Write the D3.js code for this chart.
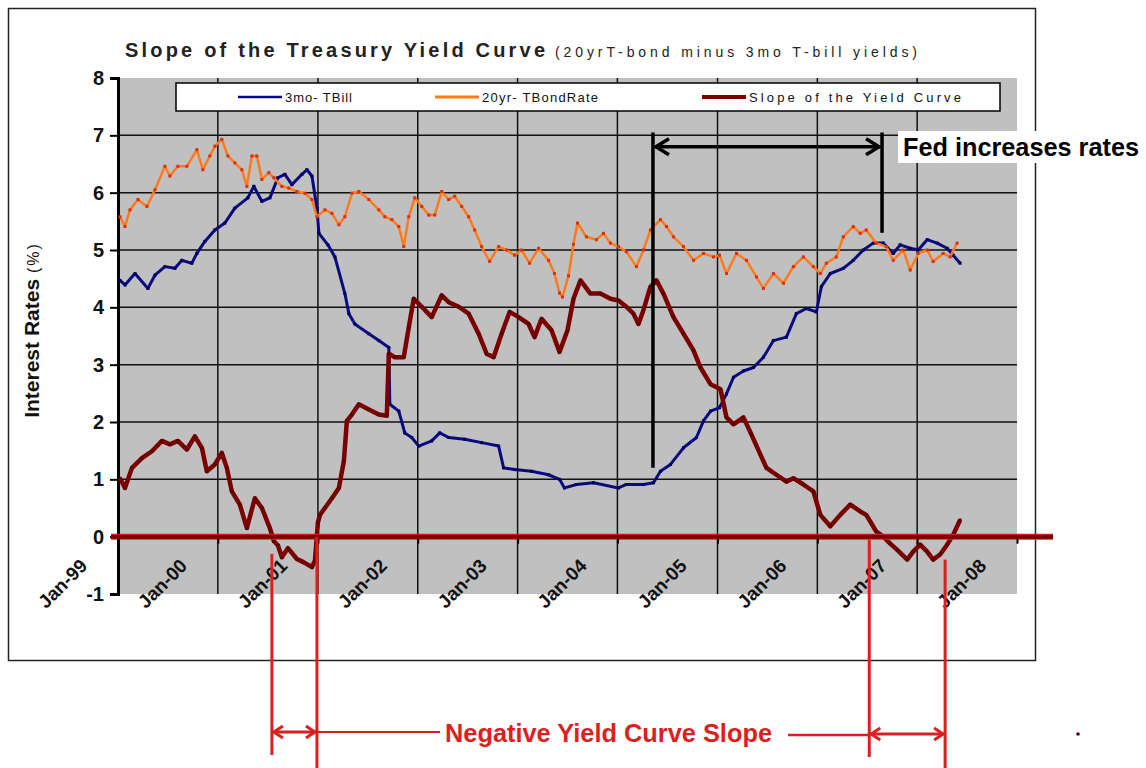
<!DOCTYPE html>
<html>
<head>
<meta charset="utf-8">
<script src="https://cdn.jsdelivr.net/npm/d3@7"></script>
<style>
  body { margin: 0; background: #fff; }
  svg { font-family: 'Liberation Sans', Arial, sans-serif; }
</style>
</head>
<body>
<div class="vis-container"></div>
<script>
// Values: [decimal year, percent]
const tbill = [
  [1999.02, 4.47], [1999.07, 4.39], [1999.17, 4.59], [1999.30, 4.33], [1999.37, 4.56], [1999.47, 4.71],
  [1999.57, 4.68], [1999.64, 4.82], [1999.74, 4.77], [1999.79, 4.94], [1999.87, 5.15], [1999.97, 5.35],
  [2000.07, 5.47], [2000.17, 5.73], [2000.30, 5.91], [2000.36, 6.11], [2000.44, 5.85], [2000.52, 5.91],
  [2000.60, 6.26], [2000.67, 6.32], [2000.74, 6.14], [2000.84, 6.32], [2000.89, 6.40], [2000.94, 6.29],
  [2000.99, 5.73], [2001.01, 5.29], [2001.10, 5.09], [2001.17, 4.88], [2001.27, 4.24], [2001.31, 3.89],
  [2001.37, 3.71], [2001.51, 3.54], [2001.61, 3.42], [2001.71, 3.30], [2001.72, 2.31], [2001.81, 2.19],
  [2001.87, 1.81], [2001.94, 1.73], [2002.01, 1.58], [2002.14, 1.67], [2002.22, 1.81], [2002.31, 1.73],
  [2002.47, 1.70], [2002.64, 1.64], [2002.81, 1.58], [2002.86, 1.20], [2002.97, 1.17], [2003.14, 1.14],
  [2003.31, 1.08], [2003.42, 1.00], [2003.47, 0.85], [2003.59, 0.91], [2003.76, 0.94], [2004.01, 0.85],
  [2004.09, 0.91], [2004.26, 0.91], [2004.36, 0.94], [2004.43, 1.14], [2004.53, 1.26], [2004.66, 1.55],
  [2004.79, 1.73], [2004.86, 2.02], [2004.93, 2.19], [2005.02, 2.25], [2005.09, 2.49], [2005.16, 2.78],
  [2005.26, 2.89], [2005.36, 2.95], [2005.46, 3.13], [2005.56, 3.42], [2005.69, 3.48], [2005.79, 3.89],
  [2005.89, 3.98], [2005.99, 3.92], [2006.04, 4.36], [2006.13, 4.59], [2006.26, 4.68], [2006.36, 4.82],
  [2006.46, 5.00], [2006.56, 5.12], [2006.66, 5.12], [2006.76, 4.94], [2006.83, 5.09], [2006.93, 5.03],
  [2007.01, 5.00], [2007.10, 5.18], [2007.20, 5.12], [2007.30, 5.03], [2007.36, 4.91], [2007.43, 4.77]
];

const bond20 = [
  [1999.02, 5.58], [1999.07, 5.41], [1999.12, 5.70], [1999.20, 5.88], [1999.29, 5.76], [1999.37, 6.05],
  [1999.47, 6.46], [1999.52, 6.29], [1999.60, 6.46], [1999.69, 6.46], [1999.79, 6.75], [1999.85, 6.40],
  [1999.92, 6.64], [1999.97, 6.81], [2000.04, 6.93], [2000.10, 6.64], [2000.17, 6.52], [2000.24, 6.40],
  [2000.29, 6.11], [2000.34, 6.64], [2000.39, 6.64], [2000.44, 6.23], [2000.51, 6.35], [2000.56, 6.26],
  [2000.64, 6.11], [2000.71, 6.08], [2000.79, 6.02], [2000.87, 5.99], [2000.94, 5.88], [2000.99, 5.58],
  [2001.07, 5.70], [2001.14, 5.64], [2001.21, 5.44], [2001.27, 5.58], [2001.34, 5.99], [2001.41, 6.02],
  [2001.51, 5.88], [2001.61, 5.70], [2001.67, 5.58], [2001.74, 5.53], [2001.81, 5.41], [2001.86, 5.06],
  [2001.91, 5.58], [2001.97, 5.91], [2002.04, 5.76], [2002.11, 5.61], [2002.17, 5.61], [2002.24, 6.02],
  [2002.31, 5.88], [2002.37, 5.94], [2002.44, 5.76], [2002.51, 5.58], [2002.57, 5.35], [2002.64, 5.06],
  [2002.72, 4.80], [2002.81, 5.06], [2002.89, 5.00], [2002.97, 4.91], [2003.04, 5.00], [2003.12, 4.77],
  [2003.21, 5.03], [2003.31, 4.82], [2003.37, 4.59], [2003.42, 4.25], [2003.45, 4.18], [2003.51, 4.55],
  [2003.56, 5.10], [2003.60, 5.47], [2003.69, 5.23], [2003.79, 5.18], [2003.86, 5.29], [2003.93, 5.12],
  [2004.01, 5.06], [2004.09, 4.97], [2004.19, 4.71], [2004.26, 5.00], [2004.33, 5.35], [2004.43, 5.53],
  [2004.49, 5.41], [2004.56, 5.23], [2004.66, 5.06], [2004.76, 4.82], [2004.86, 4.94], [2004.96, 4.88],
  [2005.02, 4.91], [2005.09, 4.59], [2005.19, 4.94], [2005.29, 4.82], [2005.39, 4.53], [2005.46, 4.33],
  [2005.56, 4.59], [2005.66, 4.42], [2005.76, 4.71], [2005.86, 4.88], [2005.96, 4.71], [2006.03, 4.59],
  [2006.09, 4.77], [2006.19, 4.88], [2006.26, 5.23], [2006.36, 5.41], [2006.43, 5.29], [2006.49, 5.35],
  [2006.59, 5.12], [2006.69, 5.06], [2006.76, 4.82], [2006.86, 5.00], [2006.93, 4.65], [2007.01, 4.94],
  [2007.10, 5.00], [2007.16, 4.80], [2007.26, 4.94], [2007.33, 4.88], [2007.40, 5.12]
];

const slope = [
  [1999.02, 1.02], [1999.07, 0.85], [1999.14, 1.20], [1999.24, 1.37], [1999.34, 1.49], [1999.44, 1.67],
  [1999.52, 1.61], [1999.60, 1.67], [1999.69, 1.52], [1999.77, 1.75], [1999.84, 1.55], [1999.89, 1.14],
  [1999.97, 1.26], [2000.04, 1.46], [2000.09, 1.20], [2000.14, 0.79], [2000.22, 0.56], [2000.29, 0.15],
  [2000.37, 0.67], [2000.44, 0.50], [2000.52, 0.15], [2000.56, -0.08], [2000.60, -0.15], [2000.64, -0.36],
  [2000.70, -0.20], [2000.79, -0.39], [2000.85, -0.44], [2000.94, -0.53], [2000.97, -0.42], [2001.00, 0.25],
  [2001.02, 0.38], [2001.07, 0.50], [2001.14, 0.67], [2001.21, 0.85], [2001.26, 1.32], [2001.29, 2.02],
  [2001.34, 2.13], [2001.41, 2.31], [2001.51, 2.22], [2001.61, 2.13], [2001.69, 2.11], [2001.71, 3.19],
  [2001.77, 3.13], [2001.86, 3.13], [2001.91, 3.65], [2001.96, 4.15], [2002.04, 4.01], [2002.14, 3.83],
  [2002.24, 4.21], [2002.31, 4.09], [2002.41, 4.01], [2002.51, 3.89], [2002.61, 3.54], [2002.69, 3.19],
  [2002.76, 3.13], [2002.84, 3.54], [2002.92, 3.92], [2003.01, 3.83], [2003.11, 3.71], [2003.17, 3.48],
  [2003.24, 3.80], [2003.34, 3.60], [2003.42, 3.22], [2003.50, 3.60], [2003.56, 4.15], [2003.63, 4.47],
  [2003.73, 4.24], [2003.83, 4.24], [2003.93, 4.15], [2004.01, 4.12], [2004.09, 4.01], [2004.16, 3.89],
  [2004.21, 3.71], [2004.26, 3.95], [2004.33, 4.36], [2004.39, 4.47], [2004.46, 4.24], [2004.56, 3.83],
  [2004.66, 3.54], [2004.76, 3.25], [2004.83, 2.95], [2004.93, 2.66], [2005.03, 2.57], [2005.09, 2.08],
  [2005.16, 1.96], [2005.26, 2.08], [2005.34, 1.78], [2005.43, 1.43], [2005.49, 1.20], [2005.59, 1.08],
  [2005.69, 0.96], [2005.76, 1.02], [2005.86, 0.91], [2005.96, 0.79], [2006.03, 0.38], [2006.13, 0.18],
  [2006.23, 0.38], [2006.33, 0.56], [2006.43, 0.44], [2006.49, 0.38], [2006.59, 0.09], [2006.66, 0.00],
  [2006.73, -0.12], [2006.80, -0.23], [2006.90, -0.40], [2006.96, -0.26], [2007.03, -0.14], [2007.10, -0.26],
  [2007.16, -0.40], [2007.23, -0.31], [2007.30, -0.14], [2007.36, 0.03], [2007.43, 0.29]
];

const yTicks = [-1, 0, 1, 2, 3, 4, 5, 6, 7, 8];
const xTickLabels = ['Jan-99', 'Jan-00', 'Jan-01', 'Jan-02', 'Jan-03', 'Jan-04', 'Jan-05', 'Jan-06', 'Jan-07', 'Jan-08'];
const seriesNames = ['3mo- TBill', '20yr- TBondRate', 'Slope of the Yield Curve'];
const fedPeriod = [2004.355, 2006.648];
const inversions = [[2000.54, 2000.99], [2006.52, 2007.28]];

const width = 1146;
const height = 768;
const plot = { left: 118, right: 1017, top: 78, bottom: 594 };
const colors = { tbill: '#0a0a80', bond: '#ff7a1a', bondDot: '#d9300f', slope: '#7a0000', note: '#dc1f1f' };

const toDate = (v) => {
  const y = Math.floor(v);
  const a = new Date(y, 0, 1), b = new Date(y + 1, 0, 1);
  return new Date(+a + (v - y) * (b - a));
};

const svg = d3
  .select('.vis-container')
  .append('svg')
  .attr('width', width)
  .attr('height', height);

const xScale = d3
  .scaleTime()
  .domain([new Date(1999, 0, 1), new Date(2008, 0, 1)])
  .range([plot.left, plot.right]);
const yScale = d3.scaleLinear().domain([-1, 8]).range([plot.bottom, plot.top]);

// chart frame
svg
  .append('rect')
  .attr('x', 8.5)
  .attr('y', 8.5)
  .attr('width', 1027)
  .attr('height', 652)
  .attr('fill', 'none')
  .attr('stroke', '#222')
  .attr('stroke-width', 1.5);

// title
svg
  .append('text')
  .attr('x', 125)
  .attr('y', 57)
  .attr('font-size', 20)
  .attr('font-weight', 'bold')
  .attr('fill', '#222')
  .attr('textLength', 420)
  .attr('lengthAdjust', 'spacing')
  .text('Slope of the Treasury Yield Curve');
svg
  .append('text')
  .attr('x', 555)
  .attr('y', 57)
  .attr('font-size', 14)
  .attr('fill', '#222')
  .attr('textLength', 362)
  .attr('lengthAdjust', 'spacing')
  .text('(20yrT-bond minus 3mo T-bill yields)');

// plot area
svg
  .append('rect')
  .attr('x', plot.left)
  .attr('y', plot.top)
  .attr('width', plot.right - plot.left)
  .attr('height', plot.bottom - plot.top)
  .attr('fill', '#c0c0c0');

const grid = svg.append('g').attr('stroke', '#111').attr('stroke-width', 1.5);
grid
  .selectAll('.h')
  .data(yTicks.filter((d) => d > 0 && d < 8))
  .join('line')
  .attr('x1', plot.left)
  .attr('x2', plot.right)
  .attr('y1', (d) => yScale(d))
  .attr('y2', (d) => yScale(d));
const yearTicks = xScale.ticks(d3.timeYear.every(1));
grid
  .selectAll('.v')
  .data(yearTicks.slice(1, -1))
  .join('line')
  .attr('x1', (d) => xScale(d))
  .attr('x2', (d) => xScale(d))
  .attr('y1', plot.top)
  .attr('y2', plot.bottom);

// y axis
svg
  .append('g')
  .attr('transform', `translate(${plot.left},0)`)
  .call(d3.axisLeft(yScale).tickValues(yTicks).tickSize(8).tickPadding(6).tickFormat((d) => String(d)))
  .call((g) => g.select('.domain').attr('stroke-width', 3))
  .call((g) => g.selectAll('.tick line').attr('stroke-width', 2))
  .call((g) =>
    g
      .selectAll('.tick text')
      .attr('font-family', "'Liberation Sans', Arial, sans-serif")
      .attr('font-size', 20)
      .attr('font-weight', 'bold')
      .attr('fill', '#111')
  );

svg
  .append('text')
  .attr('transform', `translate(39,${(plot.top + plot.bottom) / 2 - 6}) rotate(-90)`)
  .attr('text-anchor', 'middle')
  .attr('fill', '#111')
  .call((t) => t.append('tspan').attr('font-size', 21).attr('font-weight', 'bold').text('Interest Rates '))
  .call((t) => t.append('tspan').attr('font-size', 16).attr('letter-spacing', 2).text('(%)'));

// series
const line = d3
  .line()
  .x((d) => xScale(toDate(d[0])))
  .y((d) => yScale(d[1]));

function drawSeries(data, color, w, dot) {
  svg
    .append('path')
    .datum(data)
    .attr('fill', 'none')
    .attr('stroke', color)
    .attr('stroke-width', w)
    .attr('stroke-linejoin', 'round')
    .attr('d', line);
  svg
    .append('g')
    .selectAll('rect')
    .data(data)
    .join('rect')
    .attr('x', (d) => xScale(toDate(d[0])) - 1.5)
    .attr('y', (d) => yScale(d[1]) - 1.5)
    .attr('width', 3)
    .attr('height', 3)
    .attr('fill', dot);
}
drawSeries(tbill, colors.tbill, 3, '#000060');
drawSeries(bond20, colors.bond, 2.5, colors.bondDot);
drawSeries(slope, colors.slope, 4.5, '#5a0000');

// zero line doubles as x axis
const y0 = yScale(0);
svg
  .append('line')
  .attr('x1', 111)
  .attr('x2', 1053)
  .attr('y1', y0)
  .attr('y2', y0)
  .attr('stroke', '#d8282a')
  .attr('stroke-width', 6);
svg
  .append('line')
  .attr('x1', 111)
  .attr('x2', 1053)
  .attr('y1', y0)
  .attr('y2', y0)
  .attr('stroke', colors.slope)
  .attr('stroke-width', 4);

svg
  .append('g')
  .attr('transform', `translate(0,${y0})`)
  .call(
    d3
      .axisBottom(xScale)
      .ticks(d3.timeYear.every(1))
      .tickSize(7)
      .tickFormat((d, i) => xTickLabels[i])
  )
  .call((g) => g.select('.domain').remove())
  .call((g) => g.selectAll('.tick line').attr('stroke', '#000').attr('stroke-width', 2).attr('y1', 2))
  .call((g) =>
    g
      .selectAll('.tick text')
      .attr('font-family', "'Liberation Sans', Arial, sans-serif")
      .attr('font-size', 19)
      .attr('font-weight', 'bold')
      .attr('fill', '#111')
      .attr('text-anchor', 'end')
      .attr('y', 0)
      .attr('dy', 0)
      .attr('transform', `translate(-30,${yScale(-1) - 27 - y0}) rotate(-45)`)
  );

// legend
const legend = svg.append('g');
legend
  .append('rect')
  .attr('x', 176)
  .attr('y', 83)
  .attr('width', 824)
  .attr('height', 28)
  .attr('fill', '#fff')
  .attr('stroke', '#000')
  .attr('stroke-width', 1.5);
const legendItems = [
  { x: 238, color: colors.tbill, w: 2.5, len: 67 },
  { x: 435, color: colors.bond, w: 3, len: 116 },
  { x: 702, color: colors.slope, w: 4, len: 212 }
];
legendItems.forEach((it, i) => {
  legend
    .append('line')
    .attr('x1', it.x)
    .attr('x2', it.x + 44)
    .attr('y1', 97)
    .attr('y2', 97)
    .attr('stroke', it.color)
    .attr('stroke-width', it.w);
  legend
    .append('text')
    .attr('x', it.x + 47)
    .attr('y', 102)
    .attr('font-size', 13)
    .attr('fill', '#111')
    .attr('textLength', it.len)
    .attr('lengthAdjust', 'spacing')
    .text(seriesNames[i]);
});

// Fed annotation
const fx = fedPeriod.map((d) => xScale(toDate(d)));
const note = svg.append('g').attr('fill', 'none').attr('stroke', '#000').attr('stroke-width', 3.5);
note.append('line').attr('x1', fx[0]).attr('x2', fx[0]).attr('y1', yScale(7.05)).attr('y2', yScale(1.2));
note.append('line').attr('x1', fx[1]).attr('x2', fx[1]).attr('y1', yScale(7.05)).attr('y2', yScale(5.3));
const ay = yScale(6.8);
note.append('line').attr('x1', fx[0] + 2).attr('x2', fx[1] - 2).attr('y1', ay).attr('y2', ay);
note.append('path').attr('d', `M${fx[0] + 16},${ay - 8}L${fx[0] + 3},${ay}L${fx[0] + 16},${ay + 8}`);
note.append('path').attr('d', `M${fx[1] - 16},${ay - 8}L${fx[1] - 3},${ay}L${fx[1] - 16},${ay + 8}`);

svg.append('rect').attr('x', 898).attr('y', 131).attr('width', 248).attr('height', 32).attr('fill', '#fff');
svg
  .append('text')
  .attr('x', 903)
  .attr('y', 156)
  .attr('font-size', 25)
  .attr('font-weight', 'bold')
  .attr('fill', '#000')
  .attr('textLength', 236)
  .attr('lengthAdjust', 'spacingAndGlyphs')
  .text('Fed increases rates');

// negative slope annotation
const red = svg.append('g').attr('fill', 'none').attr('stroke', colors.note).attr('stroke-width', 3);
const ix = inversions.map((p) => p.map((d) => xScale(toDate(d))));
red.append('line').attr('x1', ix[0][0]).attr('x2', ix[0][0]).attr('y1', yScale(-0.3)).attr('y2', 755);
red.append('line').attr('x1', ix[0][1]).attr('x2', ix[0][1]).attr('y1', yScale(0)).attr('y2', 768);
red.append('line').attr('x1', ix[1][0]).attr('x2', ix[1][0]).attr('y1', yScale(-0.05)).attr('y2', 757);
red.append('line').attr('x1', ix[1][1]).attr('x2', ix[1][1]).attr('y1', yScale(-0.4)).attr('y2', 768);

function doubleArrow(x1, x2, y) {
  red.append('line').attr('x1', x1).attr('x2', x2).attr('y1', y).attr('y2', y);
  red.append('path').attr('d', `M${x1 + 11},${y - 6}L${x1 + 2},${y}L${x1 + 11},${y + 6}`);
  red.append('path').attr('d', `M${x2 - 11},${y - 6}L${x2 - 2},${y}L${x2 - 11},${y + 6}`);
}
doubleArrow(ix[0][0], ix[0][1], 732);
doubleArrow(ix[1][0], ix[1][1], 734);
red.append('line').attr('x1', ix[0][1]).attr('x2', 440).attr('y1', 732).attr('y2', 732).attr('stroke-width', 2);
red.append('line').attr('x1', 788).attr('x2', ix[1][0]).attr('y1', 735).attr('y2', 735).attr('stroke-width', 2.5);

svg
  .append('text')
  .attr('x', 445)
  .attr('y', 742)
  .attr('font-size', 25)
  .attr('font-weight', 'bold')
  .attr('fill', colors.note)
  .attr('textLength', 327)
  .attr('lengthAdjust', 'spacingAndGlyphs')
  .text('Negative Yield Curve Slope');

svg.append('circle').attr('cx', 1078).attr('cy', 734).attr('r', 1.8).attr('fill', '#5a0000');
</script>
</body>
</html>
